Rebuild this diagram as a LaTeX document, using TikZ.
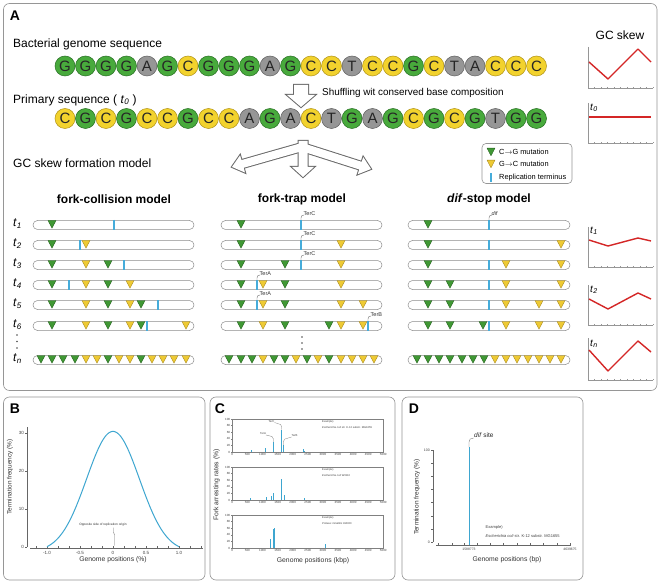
\documentclass[tikz,border=0pt]{standalone}
\usepackage{fontspec}
\setmainfont{Liberation Sans}
\definecolor{colG}{RGB}{72,170,60}
\definecolor{dcolG}{RGB}{40,112,36}
\definecolor{colC}{RGB}{242,210,45}
\definecolor{dcolC}{RGB}{178,148,25}
\definecolor{colA}{RGB}{150,150,150}
\definecolor{dcolA}{RGB}{98,98,98}
\colorlet{colT}{colA}\colorlet{dcolT}{dcolA}
\definecolor{triG}{RGB}{64,152,52}
\definecolor{triGd}{RGB}{36,96,30}
\definecolor{triY}{RGB}{238,202,52}
\definecolor{triYd}{RGB}{165,135,30}
\definecolor{term}{RGB}{70,172,218}
\definecolor{skewred}{RGB}{212,38,38}
\definecolor{frame}{RGB}{150,150,150}
\definecolor{plotblue}{RGB}{62,166,208}
\definecolor{axgray}{RGB}{150,150,150}
\definecolor{arrgray}{RGB}{105,105,105}
\newcommand\fsz[1]{\fontsize{#1}{#1}\selectfont}
\newcommand\tl[1]{\textit{t}\textsubscript{\textit{#1}}}
\tikzset{
  nuc/.style={circle, inner sep=0pt, minimum size=20pt, fill=col#1, draw=dcol#1, line width=0.5pt, font=\fsz{15}, text=black!85},
  bar/.style={draw=black!45, fill=white, line width=0.5pt, rounded corners=4.5pt},
  gtri/.style={fill=triG, draw=triGd, line width=0.35pt, line join=round},
  ytri/.style={fill=triY, draw=triYd, line width=0.35pt, line join=round},
  termline/.style={draw=term, line width=1.1pt},
  panel/.style={draw=frame, line width=0.6pt, rounded corners=6pt},
  plab/.style={font=\bfseries\fsz{14}, inner sep=0pt},
  txt/.style={inner sep=0pt, anchor=west, font=\fsz{12}},
  ttl/.style={inner sep=0pt, font=\bfseries\fsz{12}},
  tlab/.style={inner sep=0pt, anchor=west, font=\fsz{12}},
  leg/.style={inner sep=0pt, anchor=west, font=\fsz{7.4}},
  terlab/.style={inner sep=0pt, anchor=west, font=\fsz{5.5}, text=black!80},
  leader/.style={draw=black!55, line width=0.35pt},
  skax/.style={draw=axgray, line width=0.35pt},
  skewline/.style={draw=skewred, line width=1.4pt, line join=round},
  axis/.style={draw=black!60, line width=0.4pt},
  tick/.style={inner sep=0pt, font=\fsz{3}, text=black!75},
  btick/.style={inner sep=0pt, font=\fsz{4.5}, text=black!75},
  axtitle/.style={inner sep=0pt, font=\fsz{6.8}, text=black!80},
  cbar/.style={draw=plotblue, line width=0.9pt},
  arrout/.style={draw=arrgray, line width=2pt, line join=miter},
  arrin/.style={fill=white},
}
\newcommand\mkG[2]{\draw[gtri] ({#1-4},{#2-4.5}) -- ({#1+4},{#2-4.5}) -- (#1,{#2+3.2}) -- cycle;}
\newcommand\mkY[2]{\draw[ytri] ({#1-4},{#2-4.5}) -- ({#1+4},{#2-4.5}) -- (#1,{#2+3.2}) -- cycle;}
\newcommand\mkB[2]{\draw[termline] (#1,{#2-5}) -- (#1,{#2+5});}
\newcommand\Row[4]{%
  \draw[bar] (#2,{#1-4.5}) rectangle (#3,{#1+4.5});
  \foreach \px/\pc in {#4} {\csname mk\pc\endcsname{\px}{#1}}%
}
\newcommand\TerLab[5]{% x, bar y, text, name
  \draw[leader] (#1,{#2-4.5}) -- (#1,{#2-7}) .. controls (#1,{#2-9}) and ({#1+1},{#2-10}) .. ({#1+3},{#2-10});
  \node[terlab] (#4) at ({#1+2.5},{#2-11}) {#3};
}
\newcommand\BArrow[8]{\path[#8, shift={(#1,#2)}, rotate=#3] (0,-#5) -- ({#4-#7},-#5) -- ({#4-#7},-#6) -- (#4,0) -- ({#4-#7},#6) -- ({#4-#7},#5) -- (0,#5) -- cycle;}
\newcommand\SkewAxes[2]{%
  \draw[skax] (588,#1) -- (588,#2) -- (653,#2);
  \foreach \k in {0,...,8} {\draw[skax] (588,{#1+\k*(#2-#1)/8}) -- ++(1.3,0);}
  \foreach \k in {1,...,10} {\draw[skax] ({588+\k*6.5},#2) -- ++(0,-1.3);}
}
\newcommand\Cplot[5]{% top, bars, line2, name
  \draw[axis, draw=black!50] (232.3,#1) rectangle (383.3,{#1+33});
  \foreach \v in {0,20,...,100} {
    \draw[axis, draw=black!50] (232.3,{#1+33-0.33*\v}) -- ++(-1.2,0);
    \node[tick, anchor=east] (#4y\v) at (230.3,{#1+33-0.33*\v}) {\v};}
  \foreach \k in {0,500,...,5000} {
    \node[tick, anchor=north] (#4x\k) at ({232.3+0.0302*\k},{#1+34.2}) {\k};}
  \foreach \k/\h in {#2} {\draw[cbar] ({232.3+0.0302*\k},{#1+33}) -- ++(0,{-0.33*\h});}
  \node[tick, anchor=west, font=\fsz{2.7}] (#4ex) at (322,{#1+3}) {Example)};
  \node[tick, anchor=west, font=\fsz{2.7}] (#4sp) at (322,{#1+8.5}) {#3};
}
\begin{document}
\begin{tikzpicture}[x=1pt,y=-1pt]
\useasboundingbox (0,0) rectangle (662,583);
\fill[white] (0,0) rectangle (662,583);

% ---------- panel frames ----------
\draw[panel] (3.5,3.5) rectangle (657,390.5);
\draw[panel] (3.5,397) rectangle (205,580);
\draw[panel] (210,397) rectangle (395,580);
\draw[panel] (402,397) rectangle (583,580);
\node[plab] (labA) at (15,15.5) {A};
\node[plab] (labB) at (15,409) {B};
\node[plab] (labC) at (220,408.5) {C};
\node[plab] (labD) at (414,408.5) {D};

% ---------- sequences ----------
\node[txt] (tbact) at (13,44) {Bacterial genome sequence};
\foreach \b [count=\i] in {G,G,G,G,A,G,C,G,G,G,A,G,C,C,T,C,C,G,C,T,A,C,C,C}
  {\node[nuc=\b] (sa\i) at ({65+(\i-1)*20.5},66) {\b};}
\node[txt] (tprim) at (13,100) {Primary sequence ( \tl{0} )};
\foreach \b [count=\i] in {C,G,C,G,C,C,G,C,C,A,G,A,C,T,G,A,G,C,G,C,G,T,G,G}
  {\node[nuc=\b] (sb\i) at ({65+(\i-1)*20.5},118.5) {\b};}

% hollow down arrow
\BArrow{301}{85}{-90}{22}{7}{14}{12}{arrout}
\BArrow{301}{85}{-90}{22}{7}{14}{12}{arrin}
\node[txt, font=\fsz{9.9}] (tshuf) at (322,93) {Shuffling wit conserved base composition};

% ---------- formation model ----------
\node[txt] (tform) at (13,163) {GC skew formation model};
\BArrow{302}{147}{195.9}{72.8}{4}{9}{11}{arrout}
\BArrow{302}{147}{-17.7}{72.4}{4}{9}{11}{arrout}
\BArrow{303}{141}{-90}{36}{4.5}{11}{10}{arrout}
\BArrow{302}{147}{195.9}{72.8}{4}{9}{11}{arrin}
\BArrow{302}{147}{-17.7}{72.4}{4}{9}{11}{arrin}
\BArrow{303}{141}{-90}{36}{4.5}{11}{10}{arrin}

% legend
\draw[draw=frame, line width=0.6pt, rounded corners=4pt] (482,143.5) rectangle (572,183.5);
\mkG{491}{152.6}
\node[leg] (lg1) at (499,152) {C\ensuremath{\rightarrow}G mutation};
\mkY{491}{164.6}
\node[leg] (lg2) at (499,164) {G\ensuremath{\rightarrow}C mutation};
\draw[termline] (491,173.5) -- (491,182);
\node[leg] (lg3) at (499,177.7) {Replication terminus};

% titles
\node[ttl] (m1) at (114,199) {fork-collision model};
\node[ttl] (m2) at (302,199) {fork-trap model};
\node[ttl] (m3) at (489,199) {\textit{dif}-stop model};

% t labels
\node[tlab] (r1) at (13,224) {\tl{1}};
\node[tlab] (r2) at (13,244) {\tl{2}};
\node[tlab] (r3) at (13,264) {\tl{3}};
\node[tlab] (r4) at (13,284) {\tl{4}};
\node[tlab] (r5) at (13,304) {\tl{5}};
\node[tlab] (r6) at (13,325) {\tl{6}};
\node[tlab] (rn) at (13,359) {\tl{n}};
\foreach \yy in {335,341.5,348} {\fill[black!70] (17,\yy) circle (0.8);}
\foreach \yy in {337,343,349} {\fill[black!70] (302,\yy) circle (0.8);}

% fork-collision
\Row{225}{33}{194}{52/G,114/B}
\Row{245}{33}{194}{52/G,86/Y,80/B}
\Row{265}{33}{194}{52/G,86/Y,108/G,124/B}
\Row{285}{33}{194}{52/G,86/Y,108/G,130/Y,69/B}
\Row{305}{33}{194}{52/G,86/Y,108/G,130/Y,141/G,158/B}
\Row{326}{33}{194}{52/G,86/Y,108/G,130/Y,141/G,186/Y,147/B}
\Row{360}{33}{194}{41/G,52/G,63/G,75/G,86/Y,97/Y,108/G,119/Y,130/Y,141/G,152/Y,163/Y,174/Y,186/Y}

% fork-trap
\Row{225}{221}{382}{241/G,301/B}
\Row{245}{221}{382}{241/G,341/Y,301/B}
\Row{265}{221}{382}{241/G,285/G,341/Y,301/B}
\Row{285}{221}{382}{241/G,263/Y,285/G,341/Y,257/B}
\Row{305}{221}{382}{241/G,263/Y,285/G,341/Y,363/Y,257/B}
\Row{326}{221}{382}{241/G,263/Y,285/G,329/G,341/Y,363/Y,368/B}
\Row{360}{221}{382}{229/G,241/G,252/G,263/Y,274/G,285/G,296/Y,307/G,318/Y,329/G,341/Y,352/Y,363/Y,374/Y}
\TerLab{301}{225}{TerC}{tc1}{}
\TerLab{301}{245}{TerC}{tc2}{}
\TerLab{301}{265}{TerC}{tc3}{}
\TerLab{257}{285}{TerA}{ta4}{}
\TerLab{257}{305}{TerA}{ta5}{}
\TerLab{368}{326}{TerB}{tb6}{}

% dif-stop
\Row{225}{408}{570}{428/G,489/B}
\Row{245}{408}{570}{428/G,561/Y,489/B}
\Row{265}{408}{570}{428/G,506/Y,561/Y,489/B}
\Row{285}{408}{570}{428/G,450/G,506/Y,561/Y,489/B}
\Row{305}{408}{570}{428/G,450/G,506/Y,539/Y,561/Y,489/B}
\Row{326}{408}{570}{428/G,450/G,483/G,506/Y,539/Y,561/Y,489/B}
\Row{360}{408}{570}{417/G,428/G,439/G,450/G,462/G,473/G,484/G,495/Y,506/Y,517/Y,528/Y,539/Y,550/Y,561/Y}
\TerLab{489}{225}{\textit{dif}}{dif1}{}

% ---------- GC skew plots ----------
\node[inner sep=0pt, font=\fsz{12}] (gctitle) at (620,35) {GC skew};
\SkewAxes{47}{88}
\draw[skewline] (589,62) -- (608,79) -- (638,49) -- (651,62);
\SkewAxes{103}{143}
\node[tlab, font=\fsz{10}] (s0) at (590,108) {\tl{0}};
\draw[skewline] (589,117) -- (651,117);
\SkewAxes{227}{267}
\node[tlab, font=\fsz{10}] (s1) at (590,231) {\tl{1}};
\draw[skewline] (589,240) -- (608,246) -- (638,238) -- (651,241);
\SkewAxes{285}{325}
\node[tlab, font=\fsz{10}] (s2) at (590,290) {\tl{2}};
\draw[skewline] (589,299) -- (608,309) -- (638,293) -- (651,299);
\SkewAxes{338}{380}
\node[tlab, font=\fsz{10}] (sn) at (590,344) {\tl{n}};
\draw[skewline] (589,350) -- (608,371) -- (638,341) -- (651,352);

% ---------- panel B ----------
\draw[axis] (27,427) -- (27,546.7);
\foreach \v/\yy in {0/546.7,10/508.9,20/471.1,30/433.3} {
  \draw[axis] (27,\yy) -- ++(-2,0);
  \node[btick, anchor=east] (by\v) at (24,\yy) {\v};}
\draw[axis] (30,548) -- (203,548);
\foreach \k in {-7,...,8} {\draw[axis] ({113+11*\k},548) -- ++(0,-2.2);}
\foreach \v/\xx in {-1.0/47,-0.5/80,0/113,0.5/146,1.0/179} {
  \node[btick, anchor=north] (bx\xx) at (\xx,551) {\v};}
\draw[plotblue, line width=1pt] plot[domain=-1:1, samples=90, smooth] ({113+66*\x},{546.7-120.6*(exp(-(\x)*(\x)/0.32)-0.0439)});
\node[inner sep=0pt, font=\fsz{3.2}, text=black!80] (bopp) at (103,525) {Opposite side of replication origin};
\draw[leader] (113.5,527.5) -- (113.5,532) -- (114.5,535) -- (114.5,545.5);
\node[axtitle, rotate=90, font=\fsz{6.4}] (bylab) at (10,477) {Termination frequency (\%)};
\node[axtitle] (bxlab) at (113,560) {Genome positions (\%)};

% ---------- panel C ----------
\Cplot{419}{630/6,1100/11,1360/30,1640/68,1690/20,2350/8,2385/3}{\textit{Escherichia coli} str. K-12 substr. MG1655}{ca}{}
\Cplot{467}{608/6,1116/8,1304/12,1358/22,1634/63,1722/15,2385/6}{\textit{Escherichia coli} W3110}{cb}{}
\Cplot{515}{1250/28,1360/58,1392/60,3070/12}{\textit{Proteus mirabilis} HI4320}{cc}{}
\node[tick, font=\fsz{2.8}] (cterc) at (271.5,421.5) {TerC};
\draw[leader, line width=0.25pt] (274.5,422.5) -- (280.5,424.5) -- (281.8,427) -- (281.8,429.5);
\node[tick, font=\fsz{2.8}] (ctera) at (263,434) {TerA};
\draw[leader, line width=0.25pt] (266,435) -- (272,436.5) -- (273.4,439) -- (273.4,442);
\node[tick, font=\fsz{2.8}] (cterb) at (294.5,436) {TerB};
\draw[leader, line width=0.25pt] (291.5,437) -- (285,439) -- (283.3,441.5) -- (283.3,445.4);
\node[axtitle, rotate=90] (cylab) at (216.5,485) {Fork arresting rates (\%)};
\node[axtitle] (cxlab) at (313,561) {Genome positions (kbp)};

% ---------- panel D ----------
\draw[axis] (433,450) -- (433,542);
\foreach \k in {0,...,7} {\draw[axis] (433,{450+\k*13.14}) -- ++(-2,0);}
\node[tick, anchor=east, font=\fsz{3.5}] (dy100) at (430,450) {100};
\node[tick, anchor=east, font=\fsz{3.5}] (dy0) at (430,542) {0};
\draw[axis] (436,545) -- (571,545);
\foreach \xx in {438,452,464,477,490,503,517,530,543,557,570} {\draw[axis] (\xx,545) -- ++(0,-2.5);}
\node[tick, anchor=north, font=\fsz{3.4}] (dx1) at (469,548) {1588773};
\node[tick, anchor=north, font=\fsz{3.4}] (dx2) at (570,548) {4639675};
\draw[plotblue, line width=1pt] (469,545) -- (469,447);
\draw[leader] (469,447) -- (469,442) .. controls (469,439.5) and (470.5,438) .. (473.5,438);
\node[inner sep=0pt, anchor=west, font=\fsz{6.5}, text=black!85] (ddif) at (474,435.5) {\textit{dif} site};
\node[tick, anchor=west, font=\fsz{4}] (dex) at (485.5,527) {Example)};
\node[tick, anchor=west, font=\fsz{4}] (dsp) at (485.5,536) {\textit{Escherichia coli} str. K-12 substr. MG1655};
\node[axtitle, rotate=90, font=\fsz{6.5}] (dylab) at (417,497) {Termination frequency (\%)};
\node[axtitle] (dxlab) at (507,560) {Genome positions (bp)};
\end{tikzpicture}
\end{document}
